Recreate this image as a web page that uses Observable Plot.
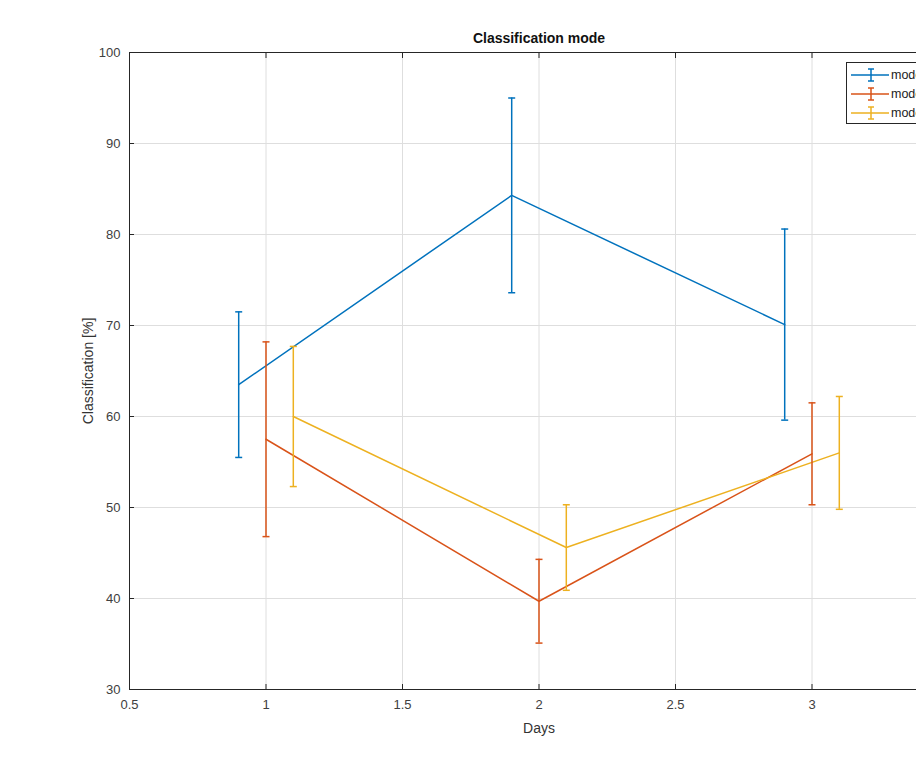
<!DOCTYPE html>
<html>
<head>
<meta charset="utf-8">
<script src="https://cdn.jsdelivr.net/npm/d3@7"></script>
<script src="https://cdn.jsdelivr.net/npm/@observablehq/plot@0.6"></script>
<style>
  html, body { margin: 0; padding: 0; background: #fff; overflow: hidden; }
  #chart { width: 916px; height: 764px; overflow: hidden; }
  #chart svg { max-width: none !important; display: block; }
</style>
</head>
<body>
<div id="chart"></div>
<script>
// ---- data ----
const seriesNames = ["mode 1", "mode 2", "mode 3"];
const seriesColors = ["#0072BD", "#D95319", "#EDB120"];

const mode1X = [0.9, 1.9, 2.9];
const mode1Mean = [63.5, 84.3, 70.1];
const mode1Err = [8.0, 10.7, 10.5];

const mode2X = [1.0, 2.0, 3.0];
const mode2Mean = [57.5, 39.7, 55.9];
const mode2Err = [10.7, 4.6, 5.6];

const mode3X = [1.1, 2.1, 3.1];
const mode3Mean = [60.0, 45.6, 56.0];
const mode3Err = [7.7, 4.7, 6.2];

const xTicks = [0.5, 1, 1.5, 2, 2.5, 3, 3.5];
const xTickLabels = [0.5, 1, 1.5, 2, 2.5, 3];   // 3.5 lies beyond the visible window
const yTicks = [30, 40, 50, 60, 70, 80, 90, 100];

const titleText = "Classification mode";
const xLabel = "Days";
const yLabel = "Classification [%]";

// ---- build table ----
const groups = [
  [mode1X, mode1Mean, mode1Err],
  [mode2X, mode2Mean, mode2Err],
  [mode3X, mode3Mean, mode3Err]
];
const rows = [];
groups.forEach(([xs, ms, es], i) => {
  xs.forEach((x, j) => rows.push({
    series: seriesNames[i], x, y: ms[j], lo: ms[j] - es[j], hi: ms[j] + es[j]
  }));
});

const cap = {
  draw(context) { context.moveTo(-3.5, 0); context.lineTo(3.5, 0); }
};

const axisColor = "#262626";
const font = "'Liberation Sans', Arial, Helvetica, sans-serif";

const plot = Plot.plot({
  width: 950,
  height: 764,
  marginLeft: 129,
  marginRight: 2,
  marginTop: 52,
  marginBottom: 75,
  style: { fontFamily: font, fontSize: "13px", color: "#404040", background: "#fff", maxWidth: "none" },
  x: { domain: [0.5, 3.5] },
  y: { domain: [30, 100] },
  color: { domain: seriesNames, range: seriesColors },
  marks: [
    Plot.gridX(xTicks, { stroke: "#dedede", strokeOpacity: 1 }),
    Plot.gridY(yTicks, { stroke: "#dedede", strokeOpacity: 1 }),
    Plot.frame({ stroke: axisColor, strokeWidth: 1 }),
    // inward tick marks
    Plot.axisX(xTicks, { anchor: "bottom", tickSize: -5, tickFormat: () => "", label: null, stroke: axisColor }),
    Plot.axisX(xTicks, { anchor: "top", tickSize: -5, tickFormat: () => "", label: null, stroke: axisColor }),
    Plot.axisY(yTicks, { anchor: "left", tickSize: -5, tickFormat: () => "", label: null, stroke: axisColor }),
    // tick labels
    Plot.axisX(xTickLabels, { anchor: "bottom", tickSize: 0, tickPadding: 10, tickFormat: d => String(d), label: null, fontSize: 13, fill: "#404040" }),
    Plot.axisY(yTicks, { anchor: "left", tickSize: 0, tickPadding: 9, tickFormat: d => String(d), label: null, fontSize: 13, fill: "#404040" }),
    // data
    Plot.line(rows, { x: "x", y: "y", z: "series", stroke: "series", strokeWidth: 1.5 }),
    Plot.ruleX(rows, { x: "x", y1: "lo", y2: "hi", stroke: "series", strokeWidth: 1.5 }),
    Plot.dot(rows, { x: "x", y: "hi", symbol: cap, stroke: "series", fill: "none", strokeWidth: 1.5, r: 4 }),
    Plot.dot(rows, { x: "x", y: "lo", symbol: cap, stroke: "series", fill: "none", strokeWidth: 1.5, r: 4 }),
    // titles
    Plot.text([titleText], { text: d => d, frameAnchor: "top", dy: -14, textAnchor: "middle", lineAnchor: "middle", fontWeight: "bold", fontSize: 14, fill: "#111" }),
    Plot.text([xLabel], { text: d => d, frameAnchor: "bottom", dy: 39, textAnchor: "middle", lineAnchor: "middle", fontSize: 14, fill: "#333" }),
    Plot.text([yLabel], { text: d => d, frameAnchor: "left", dx: -41, rotate: -90, textAnchor: "middle", lineAnchor: "middle", fontSize: 14, fill: "#333" })
  ]
});

// ---- legend (top-right, clipped by the window like the reference) ----
const svg = d3.select(plot);
const lg = svg.append("g").attr("font-family", font).attr("font-size", 12.5).attr("text-anchor", "start");
lg.append("rect").attr("x", 846.5).attr("y", 62.5).attr("width", 110).attr("height", 61)
  .attr("fill", "#fff").attr("stroke", axisColor).attr("stroke-width", 1);
seriesNames.forEach((name, i) => {
  const yy = 75 + i * 19;
  const g = lg.append("g").attr("stroke", seriesColors[i]).attr("stroke-width", 1.5).attr("fill", "none");
  g.append("line").attr("x1", 851).attr("x2", 889).attr("y1", yy).attr("y2", yy);
  g.append("line").attr("x1", 871).attr("x2", 871).attr("y1", yy - 6).attr("y2", yy + 6);
  g.append("line").attr("x1", 868).attr("x2", 874).attr("y1", yy - 6).attr("y2", yy - 6);
  g.append("line").attr("x1", 868).attr("x2", 874).attr("y1", yy + 6).attr("y2", yy + 6);
  lg.append("text").attr("x", 891).attr("y", yy).attr("dy", "0.35em").attr("text-anchor", "start").attr("fill", "#222").text(name);
});

document.getElementById("chart").appendChild(plot);
</script>
</body>
</html>
